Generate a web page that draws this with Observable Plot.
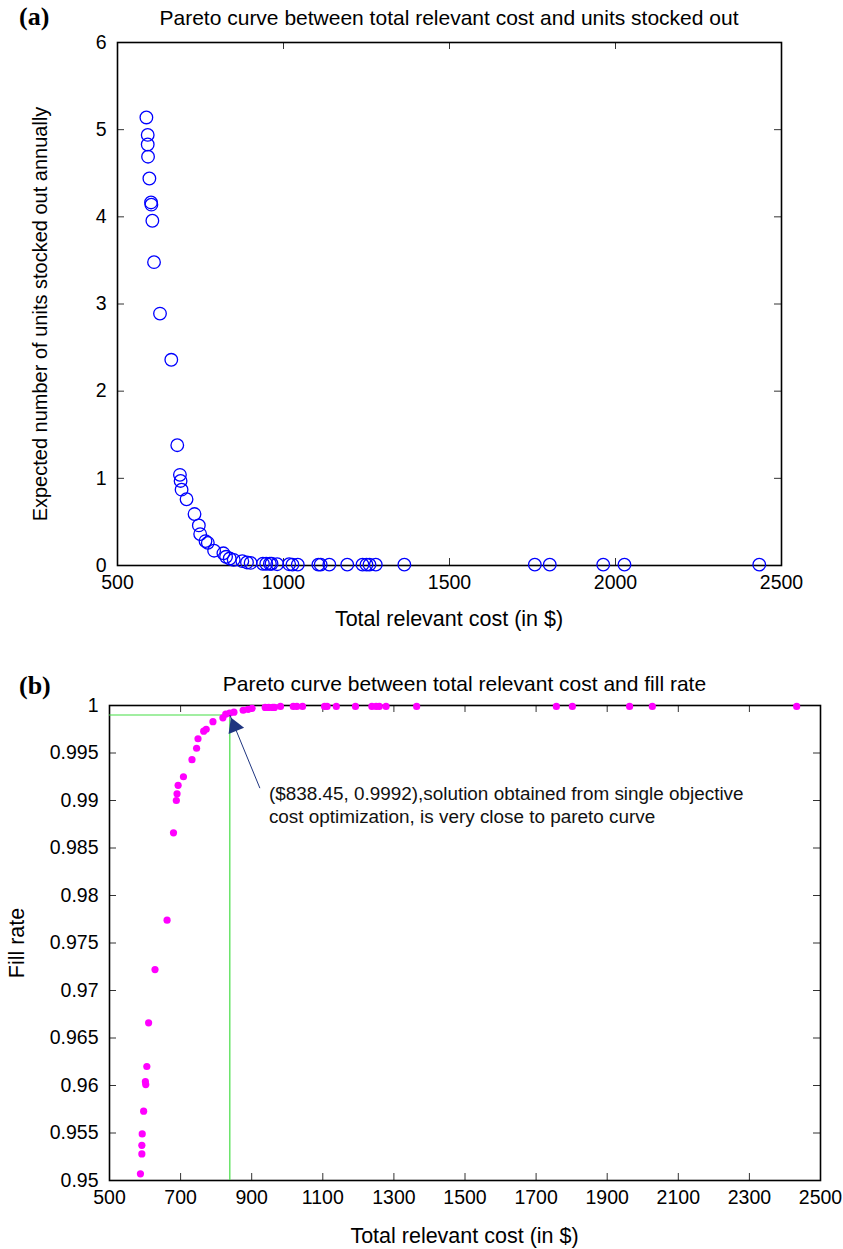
<!DOCTYPE html>
<html>
<head>
<meta charset="utf-8">
<script src="https://cdn.jsdelivr.net/npm/d3@7"></script>
<script src="https://cdn.jsdelivr.net/npm/@observablehq/plot@0.6"></script>
<style>
  html, body { margin: 0; padding: 0; background: #fff; }
  #root { position: relative; width: 843px; height: 1249px; overflow: hidden; font-family: "Liberation Sans", Arial, sans-serif; color: #000; }
  .abs { position: absolute; white-space: nowrap; line-height: 1; }
  .c { transform: translate(-50%, -50%); }
  .panel { font-family: "Liberation Serif", "Times New Roman", serif; font-weight: bold; font-size: 26px; transform: translate(0, -50%); }
  .rot { transform: translate(-50%, -50%) rotate(-90deg); }
  svg { position: absolute; left: 0; }
</style>
</head>
<body>
<div id="root"></div>
<script>
// ---- data ----
const cost = [587, 591, 591, 592, 596, 601, 602, 605, 610, 628, 662, 680, 688, 690, 693, 708, 732, 745, 749, 765, 772, 791, 819, 827, 838, 850, 876, 890, 901,
  938, 948, 959, 964, 981, 1017, 1027, 1043, 1105, 1112, 1138, 1192, 1238, 1250, 1259, 1278, 1364, 1757, 1802, 1963, 2027, 2433];
const stockedOut = [5.14, 4.94, 4.83, 4.69, 4.44, 4.165, 4.14, 3.955, 3.48, 2.89, 2.36, 1.38, 1.04, 0.97, 0.87, 0.76, 0.59, 0.46, 0.36, 0.28, 0.26, 0.17, 0.14, 0.10, 0.08, 0.065, 0.05, 0.035, 0.03,
  0.02, 0.02, 0.02, 0.02, 0.015, 0.015, 0.01, 0.01, 0.01, 0.01, 0.01, 0.01, 0.01, 0.01, 0.01, 0.01, 0.01, 0.01, 0.01, 0.01, 0.01, 0.01];
const fillRate = [0.9507, 0.9528, 0.9537, 0.9549, 0.9573, 0.9604, 0.9601, 0.9620, 0.9666, 0.9722, 0.9774, 0.9866, 0.9900, 0.9907, 0.9916, 0.9925, 0.9943, 0.9955, 0.9965, 0.9973, 0.9975, 0.9983, 0.9987, 0.9991, 0.9992, 0.9993, 0.9995, 0.9996, 0.9997,
  0.9998, 0.9998, 0.9998, 0.9998, 0.9999, 0.9999, 0.9999, 0.9999, 0.9999, 0.9999, 0.9999, 0.9999, 0.9999, 0.9999, 0.9999, 0.9999, 0.9999, 0.9999, 0.9999, 0.9999, 0.9999, 0.9999];

const xTicksA = [500, 1000, 1500, 2000, 2500];
const yTicksA = [0, 1, 2, 3, 4, 5, 6];
const xTicksB = [500, 700, 900, 1100, 1300, 1500, 1700, 1900, 2100, 2300, 2500];
const yTicksB = [0.95, 0.955, 0.96, 0.965, 0.97, 0.975, 0.98, 0.985, 0.99, 0.995, 1];

const singleObjective = {cost: 838.45, fill: 0.999};
const annotationTail = {cost: 923, fill: 0.9913};

const titleA = "Pareto curve between total relevant cost and units stocked out";
const titleB = "Pareto curve between total relevant cost and fill rate";
const yLabelA = "Expected number of units stocked out annually";
const yLabelB = "Fill rate";
const xLabel = "Total relevant cost (in $)";
const noteLines = ["($838.45, 0.9992),solution obtained from single objective", "cost optimization, is very close to pareto curve"];

const dataA = cost.map((c, i) => ({cost: c, value: stockedOut[i]}));
const dataB = cost.map((c, i) => ({cost: c, value: fillRate[i]}));

const root = document.getElementById("root");
const baseStyle = {fontFamily: "'Liberation Sans', Arial, sans-serif", fontSize: "19.5px", color: "#000", background: "transparent", overflow: "visible"};
const tickLen = 7;

function mirrorTicks(xt, yt, fw, fh) {
  return [
    Plot.tickX(xt, {x: d => d, insetTop: fh - tickLen, stroke: "#333", strokeWidth: 1}),
    Plot.tickX(xt, {x: d => d, insetBottom: fh - tickLen, stroke: "#333", strokeWidth: 1}),
    Plot.tickY(yt, {y: d => d, insetRight: fw - tickLen, stroke: "#333", strokeWidth: 1}),
    Plot.tickY(yt, {y: d => d, insetLeft: fw - tickLen, stroke: "#333", strokeWidth: 1})
  ];
}

// ---- panel (a) ----
const A = {top: 0, height: 600, ml: 117, mr: 62, mt: 42, mb: 35};
const fwA = 843 - A.ml - A.mr, fhA = A.height - A.mt - A.mb;
const plotA = Plot.plot({
  width: 843, height: A.height,
  marginLeft: A.ml, marginRight: A.mr, marginTop: A.mt, marginBottom: A.mb,
  style: baseStyle,
  x: {domain: [500, 2500], ticks: xTicksA, tickSize: 0, tickPadding: 10, label: null, tickFormat: d => String(d)},
  y: {domain: [0, 6], ticks: yTicksA, tickSize: 0, tickPadding: 11, label: null, tickFormat: d => String(d)},
  marks: [
    ...mirrorTicks(xTicksA, yTicksA, fwA, fhA),
    Plot.frame({stroke: "#000", strokeWidth: 1.6}),
    Plot.dot(dataA, {x: "cost", y: "value", r: 6.3, stroke: "#0000ff", strokeWidth: 1.3, fill: "none"})
  ]
});
plotA.style.top = A.top + "px";
root.appendChild(plotA);

// ---- panel (b) ----
const B = {top: 640, height: 609, ml: 109, mr: 23, mt: 65, mb: 69};
const fwB = 843 - B.ml - B.mr, fhB = B.height - B.mt - B.mb;
const green = "#44dd44", navy = "#1f3580";
const plotB = Plot.plot({
  width: 843, height: B.height,
  marginLeft: B.ml, marginRight: B.mr, marginTop: B.mt, marginBottom: B.mb,
  style: baseStyle,
  x: {domain: [500, 2500], ticks: xTicksB, tickSize: 0, tickPadding: 10, label: null, tickFormat: d => String(d)},
  y: {domain: [0.95, 1], ticks: yTicksB, tickSize: 0, tickPadding: 11, label: null, tickFormat: d => String(+d.toFixed(3))},
  marks: [
    ...mirrorTicks(xTicksB, yTicksB, fwB, fhB),
    Plot.frame({stroke: "#000", strokeWidth: 1.6}),
    Plot.ruleY([singleObjective], {y: "fill", x1: 500, x2: "cost", stroke: green, strokeWidth: 1.2}),
    Plot.ruleX([singleObjective], {x: "cost", y1: 0.95, y2: "fill", stroke: green, strokeWidth: 1.2}),
    Plot.dot(dataB, {x: "cost", y: "value", r: 3.6, fill: "#ff00ff", stroke: "none"}),
    Plot.link([{t: annotationTail, h: singleObjective}], {x1: d => d.t.cost, y1: d => d.t.fill, x2: d => d.h.cost, y2: d => d.h.fill, stroke: navy, strokeWidth: 1}),
    Plot.dot([singleObjective], {x: "cost", y: "fill", symbol: "triangle2", r: 8, rotate: -22, dx: 4.7, dy: 11.5, fill: navy, stroke: "none"}),
    Plot.text([noteLines.join("\n")], {x: annotationTail.cost, y: annotationTail.fill, text: d => d, textAnchor: "start", lineAnchor: "top", lineHeight: 1.22, dx: 9, dy: -5, fontSize: 18.9, fill: "#111"})
  ]
});
plotB.style.top = B.top + "px";
root.appendChild(plotB);

// ---- titles and labels ----
function addText(txt, cls, x, y, size, extra) {
  const d = document.createElement("div");
  d.className = "abs " + cls;
  d.textContent = txt;
  d.style.left = x + "px";
  d.style.top = y + "px";
  if (size) d.style.fontSize = size + "px";
  if (extra) Object.assign(d.style, extra);
  root.appendChild(d);
}
addText("(a)", "panel", 19, 17);
addText(titleA, "c", A.ml + fwA / 2, 17, 21);
addText(yLabelA, "rot", 40, A.mt + fhA / 2 + 10, 20);
addText(xLabel, "c", A.ml + fwA / 2, 620, 21.5);

addText("(b)", "panel", 19, 686);
addText(titleB, "c", B.ml + fwB / 2, 683, 21);
addText(yLabelB, "rot", 18, B.top + B.mt + fhB / 2, 21.5);
addText(xLabel, "c", B.ml + fwB / 2, 1237, 21.5);
</script>
</body>
</html>
